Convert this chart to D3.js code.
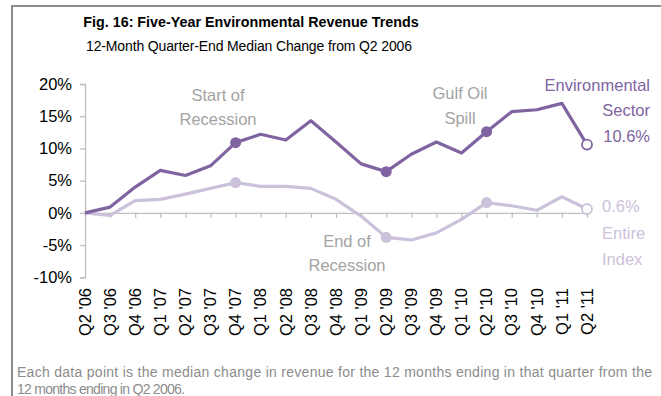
<!DOCTYPE html>
<html>
<head>
<meta charset="utf-8">
<script src="https://cdn.jsdelivr.net/npm/d3@7"></script>
<style>
  html, body { margin: 0; padding: 0; background: #fff; }
  svg { display: block; font-family: "Liberation Sans", Arial, sans-serif; }
</style>
</head>
<body>
<svg id="chart" width="661" height="396"></svg>
<script>
// Quarter-end labels, Q2 2006 through Q2 2011
const quarters = ["Q2 '06","Q3 '06","Q4 '06","Q1 '07","Q2 '07","Q3 '07","Q4 '07",
  "Q1 '08","Q2 '08","Q3 '08","Q4 '08","Q1 '09","Q2 '09","Q3 '09","Q4 '09",
  "Q1 '10","Q2 '10","Q3 '10","Q4 '10","Q1 '11","Q2 '11"];

// Median 12-month revenue change vs Q2 2006 (%)
const environmentalSector = [0, 0.9, 4.0, 6.6, 5.8, 7.3, 10.9, 12.2, 11.3, 14.3, 11.0,
  7.6, 6.4, 9.1, 11.0, 9.3, 12.6, 15.7, 16.0, 17.0, 10.6];
const entireIndex = [0, -0.4, 1.9, 2.1, 2.9, 3.8, 4.7, 4.1, 4.1, 3.8, 2.1,
  -0.5, -3.8, -4.2, -3.1, -1.0, 1.6, 1.1, 0.4, 2.5, 0.6];

const yTicks = [-10, -5, 0, 5, 10, 15, 20];

// Highlighted quarters: start of recession, end of recession, Gulf oil spill
const eventQuarters = ["Q4 '07", "Q2 '09", "Q2 '10"];
const lastQuarter = "Q2 '11";

const darkPurple = "#8064a2";
const lightPurple = "#ccc1da";
const noteGray = "#a3a3a3";

const svg = d3.select("#chart");

// frame
svg.append("path")
  .attr("d", "M12,396 L12,6 L661,6")
  .attr("fill", "none")
  .attr("stroke", "#8c8c8c")
  .attr("stroke-width", 2);

// titles
svg.append("text")
  .attr("x", 251).attr("y", 27)
  .attr("text-anchor", "middle")
  .attr("font-weight", "bold")
  .attr("font-size", 14.3)
  .attr("fill", "#000")
  .text("Fig. 16: Five-Year Environmental Revenue Trends");

svg.append("text")
  .attr("x", 249).attr("y", 51)
  .attr("text-anchor", "middle")
  .attr("font-size", 14)
  .attr("fill", "#000")
  .attr("textLength", 326)
  .text("12-Month Quarter-End Median Change from Q2 2006");

const x = d3.scalePoint().domain(quarters).range([85, 587]);
const y = d3.scaleLinear().domain([-10, 20]).range([277.3, 84]);

// y axis
const yAxis = svg.append("g")
  .attr("transform", "translate(85,0)")
  .call(d3.axisLeft(y).tickValues(yTicks).tickSize(5).tickPadding(8)
    .tickFormat(d => d + "%"));
yAxis.select(".domain").attr("stroke", "#bfbfbf").attr("stroke-width", 1.3);
yAxis.selectAll(".tick line").attr("stroke", "#bfbfbf").attr("stroke-width", 1.3);
yAxis.selectAll(".tick text")
  .attr("font-size", 16.5)
  .attr("font-family", "Liberation Sans, Arial, sans-serif")
  .attr("fill", "#000");

// x axis on the zero line
const xAxis = svg.append("g")
  .attr("transform", `translate(0,${y(0)})`)
  .call(d3.axisBottom(x).tickSize(5).tickSizeOuter(0).tickFormat(""));
xAxis.select(".domain").attr("stroke", "#bfbfbf").attr("stroke-width", 1.3);
xAxis.selectAll(".tick line").attr("stroke", "#bfbfbf").attr("stroke-width", 1.3);

// rotated quarter labels below the plot
svg.append("g").selectAll("text")
  .data(quarters)
  .join("text")
  .attr("transform", d => `translate(${x(d)},288) rotate(-90)`)
  .attr("text-anchor", "end")
  .attr("dy", "0.35em")
  .attr("font-size", 16.5)
  .attr("fill", "#000")
  .text(d => d);

const line = d3.line()
  .x((d, i) => x(quarters[i]))
  .y(d => y(d));

function drawSeries(values, color) {
  svg.append("path")
    .datum(values)
    .attr("d", line)
    .attr("fill", "none")
    .attr("stroke", color)
    .attr("stroke-width", 3.2)
    .attr("stroke-linejoin", "round");

  svg.append("g").selectAll("circle")
    .data(eventQuarters)
    .join("circle")
    .attr("cx", q => x(q))
    .attr("cy", q => y(values[quarters.indexOf(q)]))
    .attr("r", 5.5)
    .attr("fill", color);

  svg.append("circle")
    .attr("cx", x(lastQuarter))
    .attr("cy", y(values[quarters.indexOf(lastQuarter)]))
    .attr("r", 5)
    .attr("fill", "#fff")
    .attr("stroke", color)
    .attr("stroke-width", 1.8);
}

drawSeries(entireIndex, lightPurple);
drawSeries(environmentalSector, darkPurple);

// multi-line label helper
function label(lines, px, py, anchor, color, lh) {
  const t = svg.append("text")
    .attr("text-anchor", anchor)
    .attr("font-size", 16.5)
    .attr("fill", color);
  lines.forEach((s, i) => {
    t.append("tspan").attr("x", px).attr("y", py + i * lh).text(s);
  });
}

label(["Start of", "Recession"], 218, 101, "middle", noteGray, 24);
label(["Gulf Oil", "Spill"], 460, 99, "middle", noteGray, 25);
label(["End of", "Recession"], 347, 247, "middle", noteGray, 24);

const last = environmentalSector.length - 1;
label(["Environmental", "Sector", d3.format(".1f")(environmentalSector[last]) + "%"],
  650, 91, "end", darkPurple, 25.3);
label([d3.format(".1f")(entireIndex[last]) + "%", "Entire", "Index"],
  602, 212, "start", lightPurple, 26.5);

// footnote
const footLines = [
  "Each data point is the median change in revenue for the 12 months ending in that quarter from the",
  "12 months ending in Q2 2006."
];
const footWidths = [635, 168];
svg.append("g").selectAll("text")
  .data(footLines)
  .join("text")
  .attr("x", 17)
  .attr("y", (d, i) => 377 + i * 17)
  .attr("font-size", 14)
  .attr("fill", "#8c8c8c")
  .attr("textLength", (d, i) => footWidths[i])
  .text(d => d);
</script>
</body>
</html>
